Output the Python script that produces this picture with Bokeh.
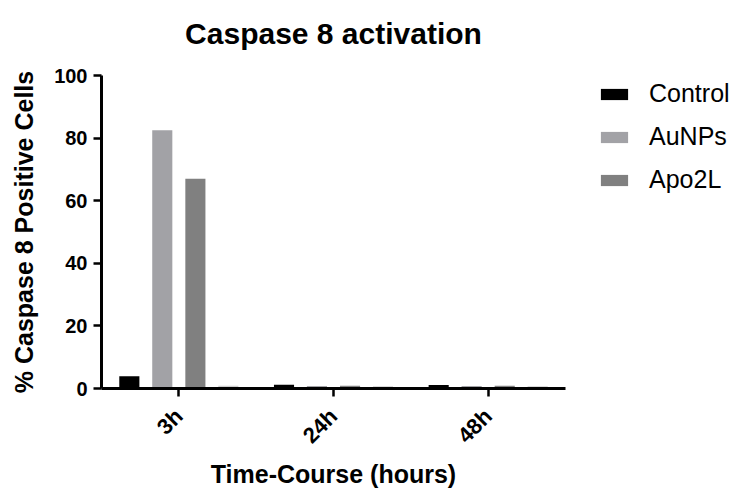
import math
from bokeh.plotting import figure
from bokeh.models import (ColumnDataSource, FactorRange, Range1d, FixedTicker,
                          Legend, LegendItem, CategoricalAxis)
from bokeh.transform import dodge
from bokeh.embed import file_html
from bokeh.resources import INLINE

# ---- data ----
title_text = "Caspase 8 activation"
categories = ["3h", "24h", "48h"]
control = [3.9, 1.2, 1.1]
aunps = [82.5, 0.8, 0.8]
apo2l = [67.0, 0.9, 0.9]
series4 = [0.9, 0.7, 0.7]
y_ticks = [0, 20, 40, 60, 80, 100]

source = ColumnDataSource(dict(x=categories, control=control, aunps=aunps,
                               apo2l=apo2l, series4=series4))

FONT = "Liberation Sans"

p = figure(x_range=FactorRange(factors=categories, range_padding=0),
           y_range=Range1d(0, 100),
           width=735, height=488,
           frame_width=464, frame_height=313,
           min_border_left=101, min_border_top=75,
           min_border_right=170, min_border_bottom=100,
           output_backend="svg", toolbar_location=None)

p.outline_line_color = None
p.xgrid.grid_line_color = None
p.ygrid.grid_line_color = None
p.background_fill_color = "white"
p.border_fill_color = "white"

# title drawn as the label of a bare axis above the frame
tax = CategoricalAxis(axis_label=title_text)
tax.axis_line_color = None
tax.major_tick_line_color = None
tax.minor_tick_line_color = None
tax.major_tick_out = 0
tax.major_tick_in = 0
tax.major_label_standoff = 0
tax.major_label_text_font_size = "0px"
tax.major_label_text_alpha = 0
tax.axis_label_standoff = 26
tax.axis_label_text_font = FONT
tax.axis_label_text_font_size = "30px"
tax.axis_label_text_font_style = "bold"
tax.axis_label_text_color = "black"
p.add_layout(tax, "above")

bw = 0.13
r1 = p.vbar(x=dodge("x", -0.32, range=p.x_range), top="control", width=bw,
            source=source, fill_color="#000000", line_color=None)
r2 = p.vbar(x=dodge("x", -0.107, range=p.x_range), top="aunps", width=bw,
            source=source, fill_color="#a2a2a6", line_color=None)
r3 = p.vbar(x=dodge("x", 0.107, range=p.x_range), top="apo2l", width=bw,
            source=source, fill_color="#808080", line_color=None)
r4 = p.vbar(x=dodge("x", 0.32, range=p.x_range), top="series4", width=bw,
            source=source, fill_color="#cfcfcf", line_color=None)

xax = p.below[0]
yax = p.left[0]

for ax in (xax, yax):
    ax.axis_line_width = 3
    ax.axis_line_color = "black"
    ax.major_tick_line_width = 2.5
    ax.major_tick_line_color = "black"
    ax.major_tick_out = 8
    ax.major_tick_in = 0
    ax.minor_tick_line_color = None
    ax.major_label_text_font = FONT
    ax.major_label_text_font_size = "20px"
    ax.major_label_text_font_style = "bold"
    ax.major_label_text_color = "black"
    ax.axis_label_text_font = FONT
    ax.axis_label_text_font_size = "25px"
    ax.axis_label_text_font_style = "bold"
    ax.axis_label_text_color = "black"

yax.ticker = FixedTicker(ticks=y_ticks)
yax.major_label_standoff = 6
yax.axis_label = "% Caspase 8 Positive Cells"
yax.axis_label_standoff = 13

xax.major_label_orientation = math.pi / 4
xax.major_label_text_font_size = "22px"
xax.major_label_standoff = 16
xax.axis_label = "Time-Course (hours)"
xax.axis_label_standoff = 0

legend = Legend(items=[LegendItem(label="Control", renderers=[r1]),
                       LegendItem(label="AuNPs", renderers=[r2]),
                       LegendItem(label="Apo2L", renderers=[r3])],
                location=(32, 194))
legend.border_line_color = None
legend.background_fill_alpha = 0
legend.padding = 0
legend.margin = 0
legend.glyph_width = 34
legend.glyph_height = 14
legend.label_height = 27
legend.spacing = 14
legend.label_standoff = 18
legend.label_text_font = FONT
legend.label_text_font_size = "25px"
legend.label_text_color = "black"
p.add_layout(legend, "right")

with open("out.html", "w") as f:
    f.write(file_html(p, INLINE))
